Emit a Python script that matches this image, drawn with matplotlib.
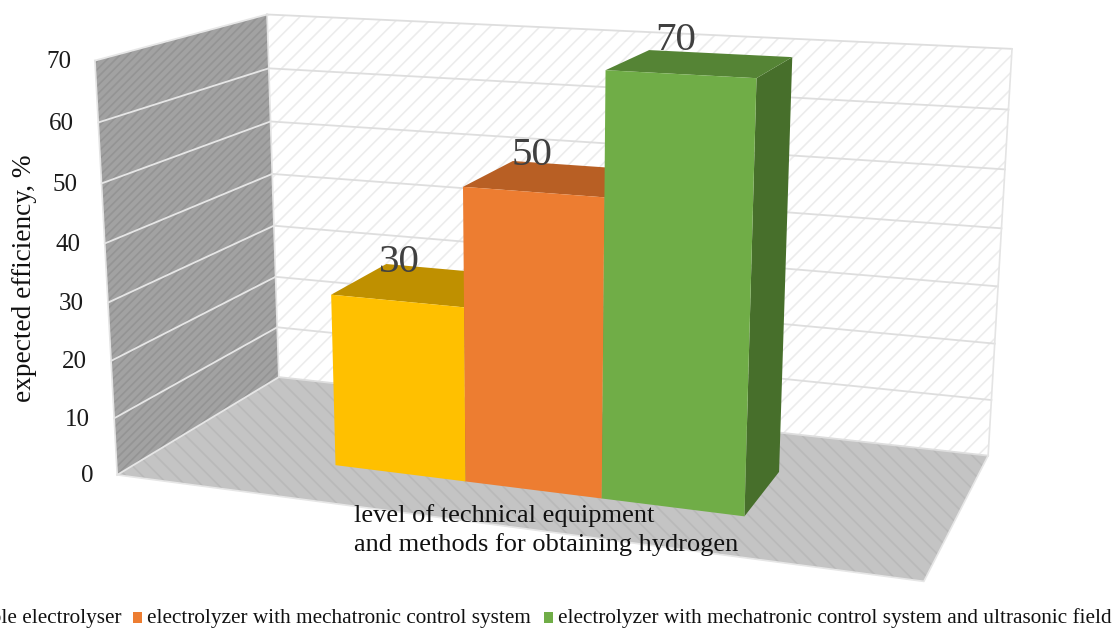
import numpy as np
import matplotlib
matplotlib.use("Agg")
import matplotlib.pyplot as plt
from matplotlib.patches import Polygon, Rectangle

# data
series_names = ["simple electrolyser", "electrolyzer with mechatronic control system",
                "electrolyzer with mechatronic control system and ultrasonic field"]
efficiency = [30, 50, 70]
y_ticks = [0, 10, 20, 30, 40, 50, 60, 70]
y_label = "expected efficiency, %"
x_label = "level of technical equipment\nand methods for obtaining hydrogen"

front_colors = ["#ffc000", "#ed7d31", "#70ad47"]
top_colors = ["#bf9000", "#b85f24", "#558435"]
side_colors = ["#997300", "#a0501d", "#476f2b"]

plt.rcParams['font.family'] = ['Liberation Serif', 'DejaVu Serif']
plt.rcParams['hatch.linewidth'] = 1.2

# camera for the fake 3d box: x across, y into the page, z is the value axis
zmax = y_ticks[-1]
box = np.array([[0, 0, 0], [0, 1, 0], [1, 1, 0], [1, 0, 0], [0, 0, zmax], [0, 1, zmax], [1, 1, zmax]], float)
screen = np.array([[117, 474], [279, 378], [988, 455], [924, 582], [95, 61], [267, 14], [1012, 49]], float)
A = []
for (x, y, z), (u, v) in zip(box, screen):
    A.append([x, y, z, 1, 0, 0, 0, 0, -u*x, -u*y, -u*z, -u])
    A.append([0, 0, 0, 0, x, y, z, 1, -v*x, -v*y, -v*z, -v])
P = np.linalg.svd(np.array(A))[2][-1].reshape(3, 4)

def proj(x, y, z):
    h = P @ np.array([x, y, z, 1.0])
    return h[:2] / h[2]

def face(corners, **kw):
    ax.add_patch(Polygon([proj(*c) for c in corners], closed=True, **kw))

fig = plt.figure(figsize=(11.15, 6.28), dpi=100)
ax = fig.add_axes([0, 0, 1, 1])
ax.set_xlim(0, 1115)
ax.set_ylim(628, 0)
ax.axis('off')

# walls and floor
face([(0, 0, 0), (0, 1, 0), (0, 1, zmax), (0, 0, zmax)], facecolor="#a2a2a2", edgecolor="#949494", hatch="////", lw=0)
face([(0, 1, 0), (1, 1, 0), (1, 1, zmax), (0, 1, zmax)], facecolor="white", edgecolor="#ececec", hatch="//", lw=0)
face([(0, 0, 0), (1, 0, 0), (1, 1, 0), (0, 1, 0)], facecolor="#c4c4c4", edgecolor="#b9b9b9", hatch="\\\\", lw=0)

# gridlines, also the box outline
for t in y_ticks:
    a, b, c = proj(0, 0, t), proj(0, 1, t), proj(1, 1, t)
    ax.plot([a[0], b[0]], [a[1], b[1]], color="#e6e6e6", lw=1.3, zorder=3)
    ax.plot([b[0], c[0]], [b[1], c[1]], color="#dedede", lw=1.3, zorder=3)
    ax.text(a[0]-24, a[1]+1.5, str(t), ha="right", va="center", fontsize=18, color="#1a1a1a", zorder=6)
for (x, y) in [(0, 0), (0, 1), (1, 1)]:
    a, b = proj(x, y, 0), proj(x, y, zmax)
    ax.plot([a[0], b[0]], [a[1], b[1]], color="#e4e4e4", lw=1.2, zorder=3)
corners = [proj(0, 0, 0), proj(1, 0, 0), proj(1, 1, 0)]
ax.plot([c[0] for c in corners], [c[1] for c in corners], color="#e6e6e6", lw=1.2, zorder=3)

# bars
bar_w = 0.176
x_left = 0.239
y0, y1 = 0.285, 0.66
for i, v in enumerate(efficiency):
    x0 = x_left + i*bar_w
    x1 = x0 + bar_w
    face([(x1, y0, 0), (x1, y1, 0), (x1, y1, v), (x1, y0, v)], facecolor=side_colors[i], lw=0, zorder=4+i*0.1)
    face([(x0, y0, v), (x1, y0, v), (x1, y1, v), (x0, y1, v)], facecolor=top_colors[i], lw=0, zorder=4+i*0.1)
    face([(x0, y0, 0), (x1, y0, 0), (x1, y0, v), (x0, y0, v)], facecolor=front_colors[i], lw=0, zorder=4+i*0.1)
    # value label sits just above the back left corner of the top face
    p = proj(x0, y1, v)
    ax.text(p[0] + 3 + v*0.33, p[1] + 4.5 - v*0.2, str(v), ha="center", va="center",
            fontsize=29.5, color="#404040", zorder=6)

ax.text(25, 278, y_label, rotation=90, ha="center", va="center", fontsize=19.6, color="#111111", zorder=6)
ax.text(354, 530, x_label, ha="left", va="center", fontsize=19, color="#111111", linespacing=1.33, zorder=6)

# legend runs off the left side of the picture, like the source
ax.text(121, 618, series_names[0], ha="right", va="center", fontsize=15.3, color="#111111")
ax.add_patch(Rectangle((133, 612), 9, 11, facecolor=front_colors[1], lw=0))
ax.text(147, 618, series_names[1], ha="left", va="center", fontsize=15.3, color="#111111")
ax.add_patch(Rectangle((544, 612), 9, 11, facecolor=front_colors[2], lw=0))
ax.text(558, 618, series_names[2], ha="left", va="center", fontsize=15.3, color="#111111")

fig.savefig("out.png", dpi=100)
